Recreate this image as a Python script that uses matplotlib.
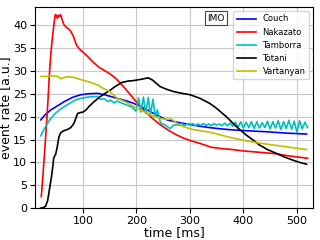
import numpy as np
import matplotlib
matplotlib.use("Agg")
from matplotlib import pyplot as plt

# Couch
t_couch = [21, 30, 40, 50, 65, 80, 96, 110, 127, 140, 164, 180, 195, 210, 226, 240, 257, 275, 294,
           319, 337, 360, 381, 410, 443, 480, 518]
v_couch = [19.3, 20.5, 21.5, 22.2, 23.3, 24.2, 24.8, 25.0, 25.1, 24.8, 24.0, 23.5, 22.9, 22.1, 21.1,
           20.2, 19.3, 18.8, 18.4, 17.9, 17.6, 17.3, 17.1, 16.9, 16.7, 16.4, 16.2]

# Nakazato
t_naka = [22, 25, 28, 31, 34, 37, 40, 43, 46, 48, 50, 52, 54, 56, 58, 61, 64, 68, 72, 77, 82, 88, 95,
          102, 110, 120, 130, 140, 150, 160, 170, 180, 190, 200, 215, 230, 245, 260, 275, 290, 305,
          320, 340, 360, 380, 400, 420, 440, 460, 480, 500, 520]
v_naka = [2.5, 7, 12, 17, 22.5, 29, 34, 37.5, 40.5, 42.3, 42.2, 41.5, 42.2, 42.0, 42.3, 41.2, 40.2,
          39.6, 39.3, 38.7, 37.6, 35.6, 34.6, 33.9, 33.0, 31.8, 30.8, 30.1, 29.4, 28.5, 27.3, 26.0,
          24.6, 23.2, 21.3, 19.6, 18.2, 17.0, 16.0, 15.2, 14.6, 14.1, 13.3, 13.0, 12.8, 12.5, 12.3,
          12.1, 11.9, 11.5, 11.2, 10.9]

# Tamborra
t_tamb = [21, 25, 30, 35, 40, 48, 55, 65, 75, 85, 96, 110, 127, 133, 140, 147, 152, 158, 164, 172,
          180, 190, 195, 199, 204, 208, 213, 217, 222, 226, 231, 235, 239, 245, 252, 258, 263, 270,
          275, 280, 285, 290, 295, 300, 305, 310, 315, 320, 325, 330, 335, 340, 345, 350, 355, 360,
          365, 370, 375, 380, 385, 390, 395, 400, 405, 410, 415, 420, 425, 430, 435, 440, 445, 450,
          455, 460, 465, 470, 475, 480, 485, 490, 495, 500, 505, 510, 515, 520]
v_tamb = [15.8, 16.8, 17.8, 18.8, 19.6, 20.7, 21.4, 22.2, 22.9, 23.6, 24.0, 24.3, 24.4, 23.8, 23.9,
          23.3, 23.6, 23.0, 23.4, 23.0, 22.6, 22.2, 21.7, 21.2, 24.1, 21.0, 24.3, 20.7, 24.2, 20.5,
          23.8, 20.0, 21.5, 18.6, 18.3, 17.8, 17.4, 18.2, 18.2, 18.1, 18.5, 18.0, 18.4, 18.1, 18.5,
          18.0, 18.4, 18.1, 18.5, 18.1, 18.4, 18.0, 18.5, 18.1, 18.4, 18.0, 18.6, 18.0, 18.6, 17.9,
          18.8, 17.6, 18.9, 17.5, 18.8, 17.6, 18.9, 17.4, 18.9, 17.5, 18.7, 17.6, 19.0, 17.3, 18.9,
          17.5, 19.1, 17.2, 18.9, 17.4, 19.2, 17.2, 19.0, 16.6, 19.1, 17.3, 18.8, 17.6]

# Totani
t_tota = [21, 26, 30, 34, 37, 41, 44, 45, 47, 49, 52, 55, 58, 62, 66, 71, 77, 83, 87, 90, 95, 100,
          106, 111, 120, 130, 140, 151, 160, 173, 185, 195, 210, 222, 230, 244, 256, 269, 285, 300,
          319, 337, 350, 368, 387, 405, 418, 430, 445, 461, 476, 492, 505, 518]
v_tota = [0.0, 0.1, 0.4, 1.7, 3.9, 6.8, 9.5, 10.8, 11.4, 11.8, 13.5, 15.6, 16.4, 16.8, 17.0, 17.2,
          17.6, 18.5, 19.8, 20.7, 20.9, 21.0, 21.5, 22.2, 23.2, 24.2, 25.0, 25.8, 26.6, 27.5, 27.8,
          27.9, 28.2, 28.5, 28.0, 26.6, 26.0, 25.5, 25.1, 24.8, 24.0, 22.9, 21.8, 20.0, 17.8, 16.0,
          14.9, 13.8, 12.8, 12.0, 11.2, 10.5, 10.0, 9.6]

# Vartanyan
t_vart = [21, 30, 40, 49, 55, 58, 62, 68, 76, 85, 96, 108, 119, 130, 137, 150, 164, 180, 195, 210,
          226, 245, 257, 265, 275, 288, 305, 320, 337, 360, 381, 410, 443, 480, 518]
v_vart = [28.8, 28.8, 28.9, 28.9, 28.7, 28.3, 28.4, 28.7, 28.7, 28.5, 28.1, 27.7, 27.3, 26.8, 26.2,
          25.5, 24.0, 23.2, 22.2, 21.3, 20.4, 19.6, 19.4, 19.5, 18.6, 17.8, 17.2, 16.9, 16.6, 15.9,
          15.3, 14.6, 14.0, 13.4, 12.8]

fig = plt.figure(figsize=(3.2, 2.4), dpi=100)
ax = fig.add_axes([0.109, 0.133, 0.869, 0.838])

lw = 1.2
ax.plot(t_couch, v_couch, color='b', lw=lw, label='Couch')
ax.plot(t_naka, v_naka, color='r', lw=lw, label='Nakazato')
ax.plot(t_tamb, v_tamb, color='c', lw=lw, label='Tamborra')
ax.plot(t_tota, v_tota, color='k', lw=lw, label='Totani')
ax.plot(t_vart, v_vart, color='y', lw=lw, label='Vartanyan')

ax.set_xlim(10, 530)
ax.set_ylim(0, 44)
ax.set_xticks([100, 200, 300, 400, 500])
ax.set_yticks([0, 5, 10, 15, 20, 25, 30, 35, 40])
ax.tick_params(labelsize=8, pad=2)
ax.grid(True, color='#c8c8c8', lw=0.8)
ax.set_xlabel('time [ms]', fontsize=9, labelpad=0)
ax.set_ylabel('event rate [a.u.]', fontsize=9, labelpad=1)

ax.legend(loc='upper right', fontsize=6, handlelength=2.3)
ax.text(0.651, 0.945, 'IMO', transform=ax.transAxes, fontsize=6.5, ha='center', va='center',
        bbox=dict(boxstyle='square,pad=0.25', fc='white', ec='#444444', lw=0.8))

fig.savefig('out.png', dpi=100)
